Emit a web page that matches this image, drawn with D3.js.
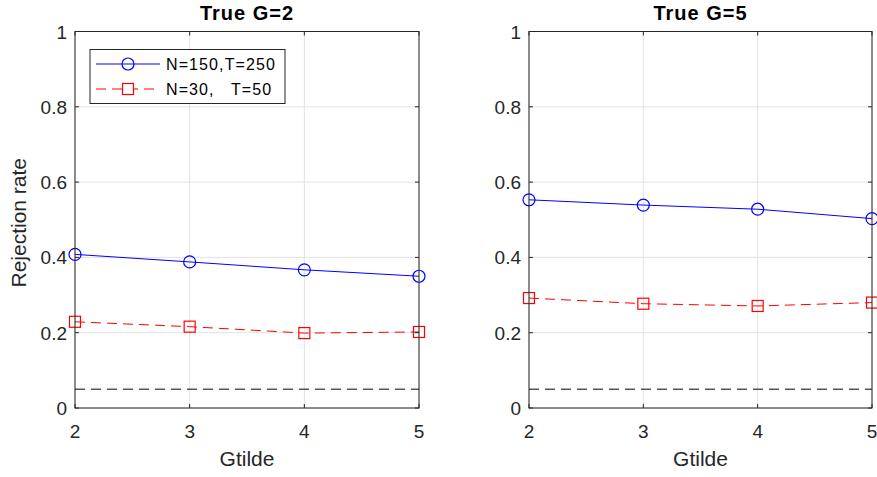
<!DOCTYPE html>
<html>
<head>
<meta charset="utf-8">
<script src="https://cdn.jsdelivr.net/npm/d3@7"></script>
<style>
  body { margin: 0; background: #fff; }
  text { font-family: "Liberation Sans", Arial, Helvetica, sans-serif; fill: #262626; }
  .tick-label { font-size: 19px; }
  .axis-label { font-size: 21px; }
  .title { font-size: 20px; font-weight: bold; fill: #000; letter-spacing: 1px; }
  .legend-text { font-size: 16px; fill: #000; letter-spacing: 1.1px; }
</style>
</head>
<body>
<script>
  // data
  const gtilde = [2, 3, 4, 5];
  const titles = ["True G=2", "True G=5"];
  const seriesNames = ["N=150,T=250", "N=30,\u00a0\u00a0 T=50"];
  const bigG2 = [0.408, 0.388, 0.367, 0.350];
  const smallG2 = [0.229, 0.216, 0.199, 0.202];
  const bigG5 = [0.553, 0.539, 0.528, 0.503];
  const smallG5 = [0.292, 0.277, 0.271, 0.280];
  const nominal = 0.05;
  const yTicks = [0, 0.2, 0.4, 0.6, 0.8, 1];

  const panels = [
    { title: titles[0], big: bigG2, small: smallG2, left: 75, right: 419, legend: true, ylabel: true },
    { title: titles[1], big: bigG5, small: smallG5, left: 529, right: 872, legend: false, ylabel: false }
  ];
  const plotTop = 31.5, plotBottom = 408;

  const svg = d3.select("body").append("svg")
    .attr("width", 877)
    .attr("height", 477);

  const fmt = d => d === 0 || d === 1 ? String(d) : d3.format(".1f")(d);

  panels.forEach(p => {
    const x = d3.scaleLinear().domain([2, 5]).range([p.left, p.right]);
    const y = d3.scaleLinear().domain([0, 1]).range([plotBottom, plotTop]);
    const g = svg.append("g");

    // grid
    g.selectAll(".gx").data(gtilde).enter().append("line")
      .attr("x1", d => x(d)).attr("x2", d => x(d))
      .attr("y1", plotTop).attr("y2", plotBottom)
      .attr("stroke", "#e3e3e3").attr("stroke-width", 1);
    g.selectAll(".gy").data(yTicks).enter().append("line")
      .attr("x1", p.left).attr("x2", p.right)
      .attr("y1", d => y(d)).attr("y2", d => y(d))
      .attr("stroke", "#e3e3e3").attr("stroke-width", 1);

    // nominal level
    g.append("line")
      .attr("x1", x(2)).attr("x2", x(5))
      .attr("y1", y(nominal)).attr("y2", y(nominal))
      .attr("stroke", "#000").attr("stroke-width", 1)
      .attr("stroke-dasharray", "10,6");

    const line = d3.line().x((d, i) => x(gtilde[i])).y(d => y(d));

    // blue series
    g.append("path").datum(p.big)
      .attr("d", line).attr("fill", "none")
      .attr("stroke", "#0000ff").attr("stroke-width", 1);
    g.selectAll(".circ").data(p.big).enter().append("circle")
      .attr("cx", (d, i) => x(gtilde[i])).attr("cy", d => y(d))
      .attr("r", 6).attr("fill", "none")
      .attr("stroke", "#0000ff").attr("stroke-width", 1.2);

    // red series
    g.append("path").datum(p.small)
      .attr("d", line).attr("fill", "none")
      .attr("stroke", "#ff0000").attr("stroke-width", 1)
      .attr("stroke-dasharray", "10,6");
    g.selectAll(".sq").data(p.small).enter().append("rect")
      .attr("x", (d, i) => x(gtilde[i]) - 5.5).attr("y", d => y(d) - 5.5)
      .attr("width", 11).attr("height", 11).attr("fill", "none")
      .attr("stroke", "#ff0000").attr("stroke-width", 1.2);

    // axes box
    g.append("rect")
      .attr("x", p.left).attr("y", plotTop)
      .attr("width", p.right - p.left).attr("height", plotBottom - plotTop)
      .attr("fill", "none").attr("stroke", "#262626").attr("stroke-width", 1);

    // tick marks inside on all four sides
    gtilde.forEach(t => {
      g.append("line").attr("x1", x(t)).attr("x2", x(t)).attr("y1", plotBottom).attr("y2", plotBottom - 4).attr("stroke", "#262626");
      g.append("line").attr("x1", x(t)).attr("x2", x(t)).attr("y1", plotTop).attr("y2", plotTop + 4).attr("stroke", "#262626");
    });
    yTicks.forEach(t => {
      g.append("line").attr("x1", p.left).attr("x2", p.left + 4).attr("y1", y(t)).attr("y2", y(t)).attr("stroke", "#262626");
      g.append("line").attr("x1", p.right).attr("x2", p.right - 4).attr("y1", y(t)).attr("y2", y(t)).attr("stroke", "#262626");
    });

    // tick labels
    g.selectAll(".xt").data(gtilde).enter().append("text")
      .attr("class", "tick-label")
      .attr("x", d => x(d)).attr("y", 438)
      .attr("text-anchor", "middle").text(d => d);
    g.selectAll(".yt").data(yTicks).enter().append("text")
      .attr("class", "tick-label")
      .attr("x", p.left - 8).attr("y", d => y(d) + 7)
      .attr("text-anchor", "end").text(fmt);

    // axis labels
    g.append("text").attr("class", "axis-label")
      .attr("x", (p.left + p.right) / 2).attr("y", 466)
      .attr("text-anchor", "middle").text("Gtilde");
    if (p.ylabel) {
      g.append("text").attr("class", "axis-label")
        .attr("transform", `translate(26,${(plotTop + plotBottom) / 2 + 3}) rotate(-90)`)
        .attr("text-anchor", "middle").text("Rejection rate");
    }

    // title
    g.append("text").attr("class", "title")
      .attr("x", (p.left + p.right) / 2).attr("y", 20)
      .attr("text-anchor", "middle").text(p.title);

    // legend
    if (p.legend) {
      const lg = g.append("g");
      lg.append("rect").attr("x", 90).attr("y", 49.5).attr("width", 195).attr("height", 54)
        .attr("fill", "#fff").attr("stroke", "#262626").attr("stroke-width", 1);
      const rows = [64, 89];
      lg.append("line").attr("x1", 96).attr("x2", 160).attr("y1", rows[0]).attr("y2", rows[0])
        .attr("stroke", "#0000ff");
      lg.append("circle").attr("cx", 128).attr("cy", rows[0]).attr("r", 6)
        .attr("fill", "none").attr("stroke", "#0000ff").attr("stroke-width", 1.2);
      lg.append("line").attr("x1", 96).attr("x2", 160).attr("y1", rows[1]).attr("y2", rows[1])
        .attr("stroke", "#ff0000").attr("stroke-dasharray", "10,6");
      lg.append("rect").attr("x", 122.5).attr("y", rows[1] - 5.5).attr("width", 11).attr("height", 11)
        .attr("fill", "#fff").attr("stroke", "#ff0000").attr("stroke-width", 1.2);
      lg.selectAll(".lt").data(seriesNames).enter().append("text")
        .attr("class", "legend-text")
        .attr("x", 166).attr("y", (d, i) => rows[i] + 6).text(d => d);
    }
  });
</script>
</body>
</html>
